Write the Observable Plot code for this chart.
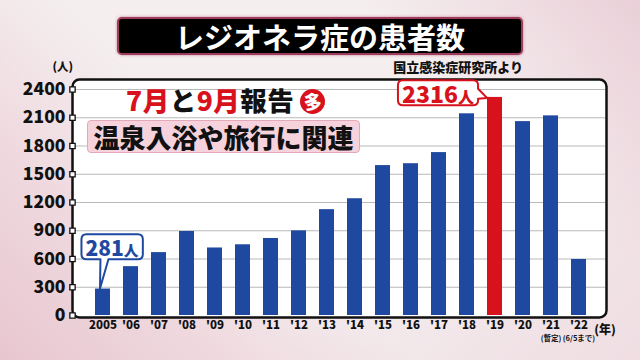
<!DOCTYPE html>
<html><head><meta charset="utf-8">
<script src="https://cdn.jsdelivr.net/npm/d3@7"></script>
<script src="https://cdn.jsdelivr.net/npm/@observablehq/plot@0.6"></script>
<style>
body{margin:0;}
#wrap{position:relative;width:640px;height:360px;overflow:hidden;font-family:"Noto Sans CJK JP",sans-serif;
background:
 linear-gradient(45deg,#e8c6d0 0%,#efd9df 22%,rgba(245,238,240,0) 42%),
 linear-gradient(225deg,#ead0d8 0%,rgba(245,238,240,0) 28%),
 linear-gradient(135deg,rgba(0,0,0,0) 60%,#efdde2 100%),
 #f4eeef;}
#plot{position:absolute;left:0;top:0;}
#title{position:absolute;left:117px;top:17px;width:402px;height:34px;background:#000;border:2px solid #9c3d5c;border-radius:5px;color:#fff;font-size:29px;font-weight:700;text-align:center;line-height:34px;box-shadow:0 0 3px #c77990;}
#source{position:absolute;left:390px;top:57px;width:133px;font-size:13px;font-weight:900;color:#111;text-align:right;white-space:nowrap;}
#note1{position:absolute;left:126px;top:85px;font-size:26.5px;font-weight:900;color:#111;white-space:nowrap;line-height:30px;letter-spacing:0.5px;}
#note1 .r{color:#d8121c;}
#note1 .c{display:inline-block;width:25px;height:25px;border-radius:13px;background:#d8121c;color:#fff;font-size:18px;line-height:25px;text-align:center;vertical-align:2px;margin-left:6px;letter-spacing:0;}
#note2{position:absolute;left:87px;top:120px;width:271px;height:31px;background:#f6d3dc;border:1px solid #e3a9b8;border-radius:4px;font-size:26px;font-weight:900;color:#111;text-align:center;line-height:31px;white-space:nowrap;}
</style></head>
<body>
<div id="wrap">
<div id="plot"></div>
<div id="title">レジオネラ症の患者数</div>
<div id="source">国立感染症研究所より</div>
<div id="note1"><span class="r">7月</span>と<span class="r">9月</span>報告<span class="c">多</span></div>
<div id="note2">温泉入浴や旅行に関連</div>
</div>
<script>
const years = ["2005","2006","2007","2008","2009","2010","2011","2012","2013","2014","2015","2016","2017","2018","2019","2020","2021","2022"];
const values = [281,519,668,892,717,751,818,899,1124,1240,1592,1612,1730,2142,2316,2059,2120,595];
const tickLabels = ["2005","'06","'07","'08","'09","'10","'11","'12","'13","'14","'15","'16","'17","'18","'19","'20","'21","'22"];
const yTicks = [0,300,600,900,1200,1500,1800,2100,2400];
const subYears = ["2021","2022"];
const subTexts = ["(暫定)","(6/5まで)"];
const highlightYear = "2019";
const calloutYears = ["2005","2019"];

const blue = "#1f49a0", red = "#d8121c";
const data = years.map((y,i)=>({year:y, value:values[i], label:tickLabels[i]}));
const subs = subYears.map((y,i)=>({year:y, text:subTexts[i]}));
const c1 = data.filter(d=>d.year===calloutYears[0]);
const c2 = data.filter(d=>d.year===calloutYears[1]);

const plot = Plot.plot({
  width:640, height:360,
  marginTop:89, marginBottom:45, marginLeft:72, marginRight:31,
  style:{background:"transparent", fontFamily:"'Noto Sans CJK JP',sans-serif", color:"#111", overflow:"visible"},
  x:{domain:years, paddingInner:0.46, paddingOuter:0.564, label:null},
  y:{domain:[0,2400], label:null},
  marks:[
    Plot.frame({fill:"white", stroke:"#111", strokeWidth:2.5, rx:7, insetTop:-10, insetBottom:-2, insetRight:3}),
    Plot.ruleY(yTicks.slice(1), {stroke:"#b9b9b9", strokeWidth:1.2, insetRight:4}),
    Plot.barY(data, {x:"year", y:"value", fill:d=>d.year===highlightYear?red:blue}),
    Plot.dot(yTicks, {y:d=>d, frameAnchor:"left", symbol:"square", r:3, fill:"white", stroke:"#111", strokeWidth:1.3}),
    Plot.axisY({ticks:yTicks, tickSize:0, tickPadding:7, fontSize:17.5, fontWeight:900, label:null, tickFormat:d=>String(d)}),
    Plot.axisX({tickSize:0, tickPadding:5, fontSize:11.5, fontWeight:900, label:null, tickFormat:y=>tickLabels[years.indexOf(y)]}),
    Plot.text(subs, {x:"year", text:"text", frameAnchor:"bottom", dy:25, fontSize:7.5, fontWeight:700, fill:"#111"}),
    Plot.text([{year:"2022", t:"(年)"}], {x:"year", text:"t", frameAnchor:"bottom", dy:18, dx:26, fontSize:12, fontWeight:900, fill:"#111"}),
    Plot.text([{t:"(人)"}], {text:"t", frameAnchor:"top-left", dx:-20, dy:-27, fontSize:11.5, fontWeight:900, fill:"#111"}),
    Plot.text(c1, {x:"year", y:"value", text:d=>d.value+"人", dx:9, dy:-40, fontSize:21, fontWeight:900, fill:blue}),
    Plot.text(c2, {x:"year", y:"value", text:d=>d.value+"人", dx:-57, dy:-2, fontSize:23, fontWeight:900, fill:red})
  ]
});
document.getElementById("plot").appendChild(plot);

// draw callout boxes around the value labels, pointing at the bars
const xs = plot.scale("x"), ys = plot.scale("y");
function decorate(d, color, side){
  const texts = [...plot.querySelectorAll("text")].filter(t=>t.textContent===d.value+"人");
  texts.forEach(t=>{
    const num = String(d.value);
    t.textContent = "";
    const s1 = document.createElementNS("http://www.w3.org/2000/svg","tspan"); s1.textContent = num;
    const s2 = document.createElementNS("http://www.w3.org/2000/svg","tspan"); s2.textContent = "人"; s2.setAttribute("font-size","0.7em");
    t.appendChild(s1); t.appendChild(s2);
    const b = t.getBBox();
    const tr = t.getCTM();
    const x0 = b.x + tr.e - 4, x1 = b.x + tr.e + b.width + 4;
    const cy = b.y + tr.f + b.height/2;
    const y0 = cy - 12.5, y1 = cy + 12.5, r = 5;
    const left = xs.apply(d.year);
    const ty = ys.apply(d.value);
    let p;
    if (side==="bottom"){
      const tx = left + 5, bx = x0 + 22;
      p = `M${x0+r},${y0}H${x1-r}Q${x1},${y0} ${x1},${y0+r}V${y1-r}Q${x1},${y1} ${x1-r},${y1}H${bx+5}L${tx},${ty}L${bx-3},${y1}H${x0+r}Q${x0},${y1} ${x0},${y1-r}V${y0+r}Q${x0},${y0} ${x0+r},${y0}Z`;
    } else {
      const tx = left, by = cy;
      p = `M${x0+r},${y0}H${x1-r}Q${x1},${y0} ${x1},${y0+r}V${by-4}L${tx},${ty+1}L${x1},${by+6}V${y1-r}Q${x1},${y1} ${x1-r},${y1}H${x0+r}Q${x0},${y1} ${x0},${y1-r}V${y0+r}Q${x0},${y0} ${x0+r},${y0}Z`;
    }
    const path = document.createElementNS("http://www.w3.org/2000/svg","path");
    path.setAttribute("d", p);
    path.setAttribute("fill","white");
    path.setAttribute("stroke", color);
    path.setAttribute("stroke-width","2");
    path.setAttribute("stroke-linejoin","round");
    const g = t.closest("g");
    g.parentNode.insertBefore(path, g);
  });
}
decorate(c1[0], blue, "bottom");
decorate(c2[0], red, "right");
</script>
</body></html>
